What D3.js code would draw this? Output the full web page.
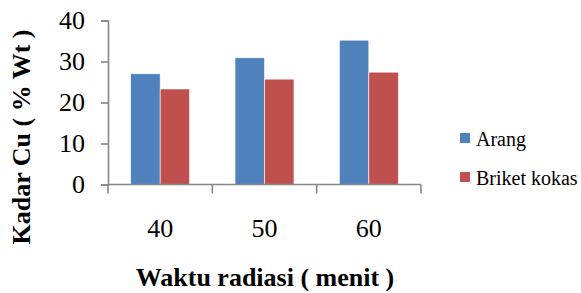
<html>
<script src="https://d3js.org/d3.v7.min.js"></script>
<body style="margin:0">
<svg id="chart"></svg>
<script>
    var categories = ["40", "50", "60"];
    var seriesNames = ["Arang", "Briket kokas"];
    var arang = [27, 30.9, 35.2];
    var briket = [23.3, 25.7, 27.4];
    var yTicks = [0, 10, 20, 30, 40];
    var colors = ["#4f81bd", "#c0504d"];
    var serif = "'Liberation Serif'";

    var svg = d3.select("#chart").attr("width", 581).attr("height", 293)
        .style("font-family", serif);

    var x = d3.scaleBand().domain(categories).range([108, 421]).paddingInner(0).paddingOuter(0);
    var y = d3.scaleLinear().domain([0, 40]).range([184.5, 20.5]);
    var inner = d3.scaleBand().domain(seriesNames).range([0, x.bandwidth()]).paddingInner(0).paddingOuter(0.77);

    var rows = categories.map(function (c, i) {
        return { cat: c, values: [arang[i], briket[i]] };
    });

    // bars
    var groups = svg.append("g").selectAll("g")
        .data(rows).enter().append("g")
        .attr("transform", function (d) { return "translate(" + x(d.cat) + ",0)"; });
    groups.selectAll("rect")
        .data(function (d) { return d.values.map(function (v, j) { return { s: seriesNames[j], v: v, j: j }; }); })
        .enter().append("rect")
        .attr("x", function (d) { return inner(d.s); })
        .attr("width", inner.bandwidth())
        .attr("y", function (d) { return y(d.v); })
        .attr("height", function (d) { return y(0) - y(d.v); })
        .attr("fill", function (d) { return colors[d.j]; })
        .attr("stroke", "#fff")
        .attr("stroke-width", 0.6);

    // y axis
    var yAxis = svg.append("g").attr("transform", "translate(108,0)")
        .call(d3.axisLeft(y).tickValues(yTicks).tickSize(7).tickPadding(16));
    yAxis.attr("font-family", null).attr("font-size", null);

    // x axis
    var xAxis = svg.append("g").attr("transform", "translate(0,184.5)")
        .call(d3.axisBottom(x).tickSize(0).tickPadding(34));
    xAxis.attr("font-family", null).attr("font-size", null);
    var edges = x.domain().map(function (c) { return x(c); }).concat([x.range()[1]]);
    xAxis.selectAll(".edge").data(edges).enter().append("line")
        .attr("class", "edge")
        .attr("x1", function (d) { return d; }).attr("x2", function (d) { return d; })
        .attr("y1", 0).attr("y2", 9);

    svg.selectAll(".domain, .tick line, .edge")
        .attr("stroke", "#868686").attr("stroke-width", 1.6);
    xAxis.select(".domain").attr("d", "M108,0H421");
    svg.selectAll(".tick text")
        .style("font-family", serif).style("font-size", "26px").attr("fill", "#000");

    // axis titles
    svg.append("text")
        .attr("transform", "translate(30,137) rotate(-90)")
        .attr("text-anchor", "middle")
        .style("font-family", serif).style("font-size", "26px").style("font-weight", "bold")
        .text("Kadar Cu ( % Wt )");
    svg.append("text")
        .attr("x", 265).attr("y", 286)
        .attr("text-anchor", "middle")
        .style("font-family", serif).style("font-size", "26px").style("font-weight", "bold")
        .text("Waktu radiasi ( menit )");

    // legend
    var legend = svg.append("g").attr("transform", "translate(460,133)");
    var li = legend.selectAll("g").data(seriesNames).enter().append("g")
        .attr("transform", function (d, i) { return "translate(0," + (i * 39) + ")"; });
    li.append("rect").attr("width", 10).attr("height", 10)
        .attr("fill", function (d, i) { return colors[i]; });
    li.append("text").attr("x", 16).attr("y", 12.5)
        .style("font-family", serif).style("font-size", "20px")
        .text(function (d) { return d; });
</script>
</body>
</html>
